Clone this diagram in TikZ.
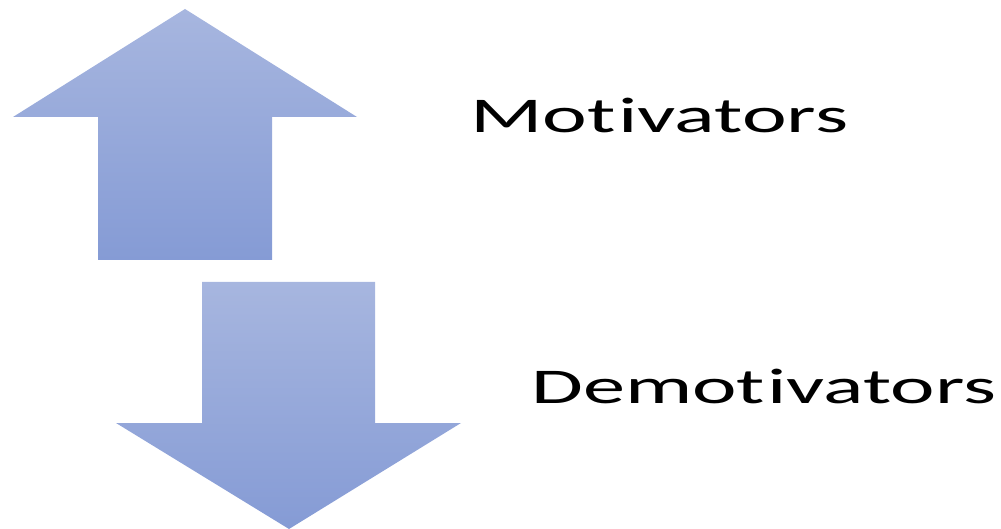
\documentclass[tikz,border=0pt]{standalone}
\usepackage{fontspec}
\setmainfont{Carlito}[Ligatures={NoCommon}, RawFeature={-liga;-clig;-dlig}]
\usepackage{graphicx}
\definecolor{arrowtop}{RGB}{167,182,223}
\definecolor{arrowbot}{RGB}{133,155,213}
\newcommand{\tisep}{t\kern1.5pt i}
\tikzset{
  bigarrow/.style={top color=arrowtop, bottom color=arrowbot, draw=none},
  label/.style={inner sep=0pt, font=\fontsize{50}{60}\selectfont, text=black}
}
\begin{document}
\begin{tikzpicture}[x=1pt, y=-1pt]
  \useasboundingbox (0,0) rectangle (1001,529);
  % upward arrow
  \shade[bigarrow] (185,9) -- (357,117) -- (272,117) -- (272,260) -- (98,260) -- (98,117) -- (13,117) -- cycle;
  % downward arrow
  \shade[bigarrow] (202,282) -- (375,282) -- (375,423) -- (461,423) -- (289,529) -- (116,423) -- (202,423) -- cycle;
  \node[label, anchor=base west] (mot) at (470,133) {\resizebox{378pt}{\height}{Mo\tisep vators}};
  \node[label, anchor=base west] (demot) at (531,403) {\resizebox{465pt}{\height}{Demo\tisep vators}};
\end{tikzpicture}
\end{document}
